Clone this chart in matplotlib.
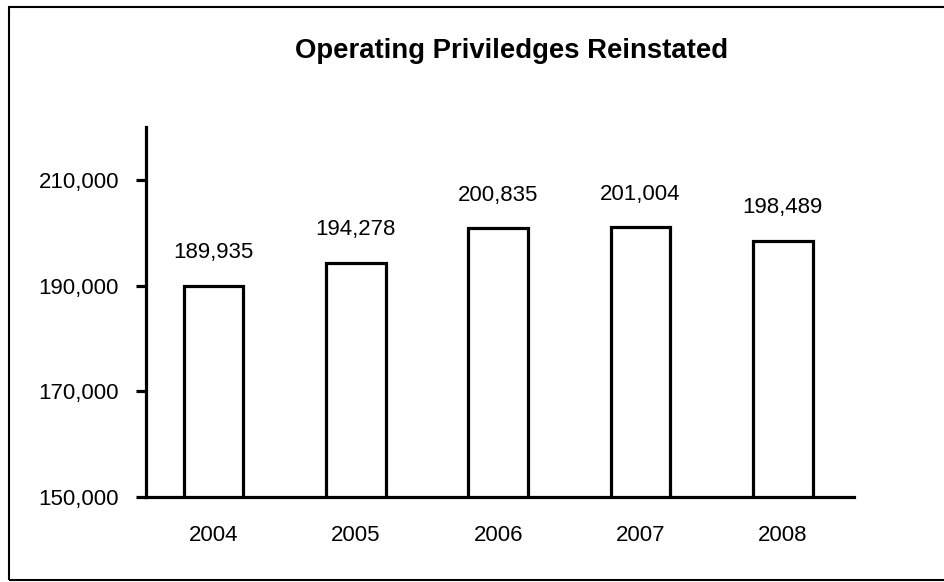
import matplotlib
matplotlib.use("Agg")
import matplotlib.pyplot as plt
from matplotlib.patches import Rectangle
from matplotlib.ticker import FuncFormatter

plt.rcParams['font.family'] = ['Liberation Sans', 'DejaVu Sans']

years = ["2004", "2005", "2006", "2007", "2008"]
values = [189935, 194278, 200835, 201004, 198489]
yticks = [150000, 170000, 190000, 210000]
title = "Operating Priviledges Reinstated"

W, H = 945, 582
fig = plt.figure(figsize=(W / 100, H / 100), dpi=100)
fig.patch.set_facecolor("white")

# outer frame
fig.add_artist(Rectangle((9 / W, 2 / H), 1.2, (573) / H, transform=fig.transFigure,
                         fill=False, edgecolor="black", linewidth=1.5))

ax = fig.add_axes([146 / W, (H - 497) / H, (854 - 146) / W, (497 - 127) / H])
x = list(range(len(years)))
ax.bar(x, values, width=0.42, color="white", edgecolor="black", linewidth=2.3)

ax.set_ylim(150000, 220000)
ax.set_xlim(-0.475, 4.5)
ax.set_yticks(yticks)
ax.yaxis.set_major_formatter(FuncFormatter(lambda v, p: f"{int(v):,}"))
ax.set_xticks(x)
ax.set_xticklabels(years)

for s in ["top", "right"]:
    ax.spines[s].set_visible(False)
for s in ["left", "bottom"]:
    ax.spines[s].set_linewidth(2.3)

ax.tick_params(axis="y", length=7, width=2.3, pad=12.5, labelsize=16, direction="out")
ax.tick_params(axis="x", length=0, pad=20, labelsize=16)

for xi, v in zip(x, values):
    ax.annotate(f"{v:,}", (xi, v), xytext=(0, 20), textcoords="offset points",
                ha="center", va="baseline", fontsize=16)

fig.text(512 / W, (H - 58) / H, title, ha="center", va="baseline",
         fontsize=19.8, fontweight="bold")

fig.savefig("out.png", dpi=100, facecolor="white")
